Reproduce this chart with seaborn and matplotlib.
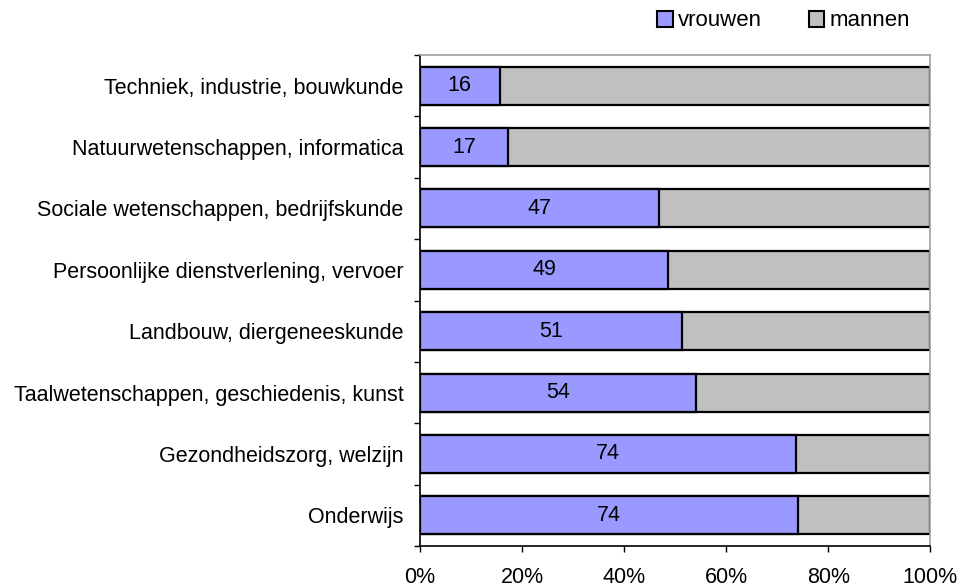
import numpy as np
import pandas as pd
import matplotlib
matplotlib.use("Agg")
import matplotlib.pyplot as plt
import seaborn as sns
from matplotlib.ticker import FixedLocator, PercentFormatter
from matplotlib.patches import Patch

# Data (aandeel vrouwen per studierichting, in %)
richtingen = ['Techniek, industrie, bouwkunde',
              'Natuurwetenschappen, informatica',
              'Sociale wetenschappen, bedrijfskunde',
              'Persoonlijke dienstverlening, vervoer',
              'Landbouw, diergeneeskunde',
              'Taalwetenschappen, geschiedenis, kunst',
              'Gezondheidszorg, welzijn',
              'Onderwijs']
vrouwen = [15.6, 17.3, 46.9, 48.7, 51.4, 54.1, 73.7, 74.1]
totaal = [100] * len(richtingen)

df = pd.DataFrame({'richting': richtingen, 'vrouwen': vrouwen, 'totaal': totaal})

sns.set_style("white")
plt.rcParams['font.family'] = ['Liberation Sans', 'DejaVu Sans']
plt.rcParams['text.color'] = 'black'
plt.rcParams['xtick.color'] = 'black'
plt.rcParams['ytick.color'] = 'black'
plt.rcParams['axes.labelcolor'] = 'black'

fig = plt.figure(figsize=(9.61, 5.87), dpi=100)
ax = fig.add_axes([0.437, 0.0698, 0.531, 0.8365])

kleur_v = '#9999FF'
kleur_m = '#C0C0C0'
fs = 15.5

# eerst de volle balk (mannen), daarna vrouwen eroverheen
sns.barplot(data=df, y='richting', x='totaal', color=kleur_m, orient='h',
            width=0.62, edgecolor='black', linewidth=1.6, saturation=1, ax=ax)
sns.barplot(data=df, y='richting', x='vrouwen', color=kleur_v, orient='h',
            width=0.62, edgecolor='black', linewidth=1.6, saturation=1, ax=ax)

# labels in de balken
for i, v in enumerate(vrouwen):
    ax.text(v / 2, i, f'{round(v)}', ha='center', va='center', fontsize=fs,
            color='black')

ax.set_xlim(0, 100)
ax.set_ylim(len(richtingen) - 0.5, -0.5)
ax.set_xlabel('')
ax.set_ylabel('')

ax.set_xticks([0, 20, 40, 60, 80, 100])
ax.xaxis.set_major_formatter(PercentFormatter(decimals=0))
ax.tick_params(axis='x', direction='out', length=4, width=1, color='black',
               labelcolor='black', labelsize=fs, pad=11, bottom=True)
ax.tick_params(axis='y', which='major', length=0, labelsize=fs, pad=12,
               labelcolor='black')
ax.yaxis.set_minor_locator(FixedLocator(np.arange(-0.5, len(richtingen), 1)))
ax.tick_params(axis='y', which='minor', direction='out', length=4, width=1,
               color='black', left=True)

for s in ['left', 'bottom']:
    ax.spines[s].set_color('black')
    ax.spines[s].set_linewidth(1.2)
for s in ['top', 'right']:
    ax.spines[s].set_color('#A0A0A0')
    ax.spines[s].set_linewidth(1.2)

handles = [Patch(facecolor=kleur_v, edgecolor='black', linewidth=1.5, label='vrouwen'),
           Patch(facecolor=kleur_m, edgecolor='black', linewidth=1.5, label='mannen')]
fig.legend(handles=handles, loc='center left', bbox_to_anchor=(646 / 961, 1 - 21 / 587),
           ncol=2, frameon=False, fontsize=16, borderpad=0, handlelength=0.7,
           handleheight=0.7, handletextpad=0.25, columnspacing=2.1,
           labelcolor='black')

fig.savefig('out.png', dpi=100)
